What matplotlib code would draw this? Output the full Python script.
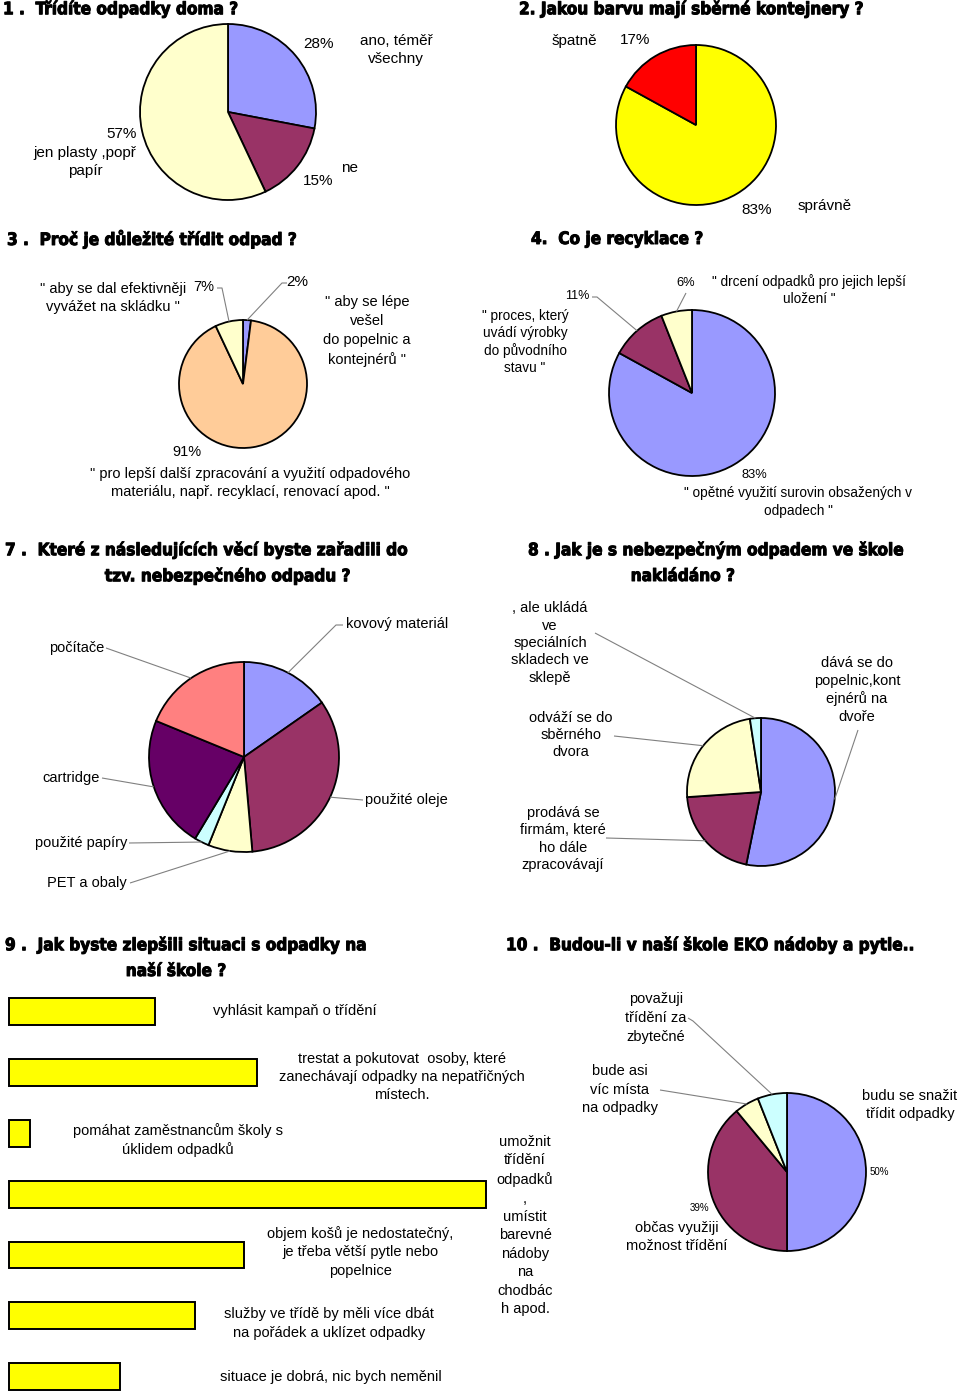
import numpy as np
import matplotlib
matplotlib.use("Agg")
import matplotlib.pyplot as plt
import matplotlib.patheffects as pe

# ---------------- data ----------------
q1_labels = ["ano, téměř\nvšechny", "ne", "jen plasty ,popř\npapír"]
q1_values = [28, 15, 57]

q2_labels = ["správně", "špatně"]
q2_values = [83, 17]

q3_labels = ['" aby se lépe\nvešel\ndo popelnic a\nkontejnérů "',
             '" pro lepší další zpracování a využití odpadového\nmateriálu, např. recyklací, renovací apod. "',
             '" aby se dal efektivněji\nvyvážet na skládku "']
q3_values = [2, 91, 7]

q4_labels = ['" opětné využití surovin obsažených v\nodpadech "',
             '" proces, který\nuvádí výrobky\ndo původního\nstavu "',
             '" drcení odpadků pro jejich lepší\nuložení "']
q4_values = [83, 11, 6]

q7_labels = ["kovový materiál", "použité oleje", "PET a obaly", "použité papíry", "cartridge", "počítače"]
q7_values = [15.3, 33.3, 7.5, 2.5, 22.6, 18.8]

q8_labels = ["dává se do\npopelnic,kont\nejnérů na\ndvoře",
             "prodává se\nfirmám, které\nho dále\nzpracovávají",
             "odváží se do\nsběrného\ndvora",
             ", ale ukládá\nve\nspeciálních\nskladech ve\nsklepě"]
q8_values = [53.2, 20.7, 23.7, 2.4]

q9_labels = ["vyhlásit kampaň o třídění",
             "trestat a pokutovat  osoby, které\nzanechávají odpadky na nepatřičných\nmístech.",
             "pomáhat zaměstnancům školy s\núklidem odpadků",
             "umožnit\ntřídění\nodpadků\n,\numístit\nbarevné\nnádoby\nna\nchodbác\nh apod.",
             "objem košů je nedostatečný,\nje třeba větší pytle nebo\npopelnice",
             "služby ve třídě by měli více dbát\nna pořádek a uklízet odpadky",
             "situace je dobrá, nic bych neměnil"]
q9_values = [6.8, 11.6, 1.0, 22.3, 11.0, 8.7, 5.2]

q10_labels = ["budu se snažit\ntřídit odpadky", "občas využiji\nmožnost třídění",
              "bude asi\nvíc místa\nna odpadky", "považuji\ntřídění za\nzbytečné"]
q10_values = [50, 39, 5, 6]

titles = ["1 .  Třídíte odpadky doma ?",
          "2. Jakou barvu mají sběrné kontejnery ?",
          "3 .  Proč je důležité třídit odpad ?",
          "4.  Co je recyklace ?",
          "7 .  Které z následujících věcí byste zařadili do",
          "tzv. nebezpečného odpadu ?",
          "8 . Jak je s nebezpečným odpadem ve škole",
          "nakládáno ?",
          "9 .  Jak byste zlepšili situaci s odpadky na",
          "naší škole ?",
          "10 .  Budou-li v naší škole EKO nádoby a pytle.."]

# ---------------- style ----------------
BLUE = "#9999FF"; MAROON = "#993366"; CREAM = "#FFFFCC"; CYAN = "#CCFFFF"
PINK = "#FF8080"; PURPLE = "#660066"; PEACH = "#FFCC99"; RED = "#FF0000"; YELLOW = "#FFFF00"
LBL = ["Liberation Sans", "DejaVu Sans"]
TTL = ["DejaVu Sans"]
LEAD = "#808080"

W, H = 960, 1394
fig = plt.figure(figsize=(W / 100, H / 100), dpi=100)
fig.patch.set_facecolor("white")

ov = fig.add_axes([0, 0, 1, 1], zorder=5)
ov.set_xlim(0, W); ov.set_ylim(H, 0); ov.axis("off")


def txt(x, y, s, size=10.5, ha="center", va="center", ls=1.45, **kw):
    ov.text(x, y, s, fontsize=size, ha=ha, va=va, family=LBL, linespacing=ls,
            multialignment="center", **kw)


def title(x, y, s, ha="left"):
    ov.text(x, y, s, fontsize=12.3, ha=ha, va="center", family=TTL, fontweight="bold",
            fontstretch="condensed",
            path_effects=[pe.withStroke(linewidth=0.7, foreground="black")])


def pie_at(cx, cy, r, values, colors):
    ax = fig.add_axes([(cx - r) / W, 1 - (cy + r) / H, 2 * r / W, 2 * r / H])
    wedges, _ = ax.pie(values, colors=colors, startangle=90, counterclock=False,
                       wedgeprops=dict(edgecolor="black", linewidth=1.3))
    for w in wedges:
        w.set_clip_on(False)
    ax.set_xlim(-1, 1); ax.set_ylim(-1, 1); ax.set_aspect("equal"); ax.axis("off")
    return ax, wedges


def leader(ax, w, pts):
    th = np.deg2rad((w.theta1 + w.theta2) / 2)
    disp = ax.transData.transform((np.cos(th), np.sin(th)))
    ex, ey = ov.transData.inverted().transform(disp)
    xs = [p[0] for p in pts] + [ex]
    ys = [p[1] for p in pts] + [ey]
    ov.plot(xs, ys, color=LEAD, lw=0.8, solid_capstyle="butt")


def pct(v):
    return f"{int(round(v))}%"


# ---------------- titles ----------------
title(3, 9, titles[0])
title(519, 9, titles[1])
title(7, 239, titles[2])
title(531, 239, titles[3])
title(5, 550, titles[4])
title(228, 576, titles[5], ha="center")
title(528, 550, titles[6])
title(683, 576, titles[7], ha="center")
title(5, 945, titles[8])
title(176, 971, titles[9], ha="center")
title(506, 945, titles[10])

# ---------------- Q1 ----------------
ax1, w1 = pie_at(228, 112, 88, q1_values, [BLUE, MAROON, CREAM])
txt(318, 44, pct(q1_values[0]), size=11)
txt(396, 50, q1_labels[0], size=11)
txt(318, 181, pct(q1_values[1]), size=11)
txt(350, 168, q1_labels[1], size=11)
txt(137, 134, pct(q1_values[2]), size=11, ha="right")
txt(85, 162, q1_labels[2], size=11)

# ---------------- Q2 ----------------
ax2, w2 = pie_at(696, 125, 80, q2_values, [YELLOW, RED])
txt(757, 210, pct(q2_values[0]), size=11)
txt(825, 206, q2_labels[0], size=11)
txt(635, 40, pct(q2_values[1]), size=11)
txt(574, 41, q2_labels[1], size=11)

# ---------------- Q3 ----------------
ax3, w3 = pie_at(243, 384, 64, q3_values, [BLUE, PEACH, CREAM])
txt(297, 282, pct(q3_values[0]), size=11)
leader(ax3, w3[0], [(287, 283), (282, 283)])
txt(367, 331, q3_labels[0], size=10.5)
txt(187, 452, pct(q3_values[1]), size=10.5)
txt(250, 483, q3_labels[1], size=10.5)
txt(204, 287, pct(q3_values[2]), size=10.5)
leader(ax3, w3[2], [(217, 288), (222, 288)])
txt(113, 298, q3_labels[2], size=10.5)

# ---------------- Q4 ----------------
ax4, w4 = pie_at(692, 393, 83, q4_values, [BLUE, MAROON, CREAM])
txt(754, 475, pct(q4_values[0]), size=9.3)
txt(798, 502, q4_labels[0], size=9.8, ls=1.3)
txt(577, 296, pct(q4_values[1]), size=9)
leader(ax4, w4[1], [(592, 297), (597, 297)])
txt(525, 342, q4_labels[1], size=9.8, ls=1.25)
txt(686, 283, pct(q4_values[2]), size=9.3)
leader(ax4, w4[2], [(686, 293)])
txt(809, 290, q4_labels[2], size=9.8, ls=1.3)

# ---------------- Q7 ----------------
ax7, w7 = pie_at(244, 757, 95, q7_values, [BLUE, MAROON, CREAM, CYAN, PURPLE, PINK])
txt(346, 624, q7_labels[0], ha="left")
leader(ax7, w7[0], [(343, 625), (336, 625)])
txt(365, 800, q7_labels[1], ha="left")
leader(ax7, w7[1], [(363, 800)])
txt(127, 883, q7_labels[2], ha="right")
leader(ax7, w7[2], [(130, 883)])
txt(127, 843, q7_labels[3], ha="right")
leader(ax7, w7[3], [(129, 843)])
txt(100, 778, q7_labels[4], ha="right")
leader(ax7, w7[4], [(102, 778)])
txt(104, 648, q7_labels[5], ha="right")
leader(ax7, w7[5], [(106, 648)])

# ---------------- Q8 ----------------
ax8, w8 = pie_at(761, 792, 74, q8_values, [BLUE, MAROON, CREAM, CYAN])
txt(857, 690, q8_labels[0], ls=1.3)
leader(ax8, w8[0], [(858, 730)])
txt(563, 839, q8_labels[1], ls=1.3)
leader(ax8, w8[1], [(606, 838)])
txt(571, 735, q8_labels[2], ls=1.3)
leader(ax8, w8[2], [(614, 736)])
txt(550, 643, q8_labels[3], ls=1.3)
leader(ax8, w8[3], [(595, 633)])

# ---------------- Q9 (bars) ----------------
px_per_unit = 21.4
row_px = 60.83
bar_left, bar_top, bar_w, bar_h = 9, 981.3, 480, H - 981.3
axb = fig.add_axes([bar_left / W, 0, bar_w / W, bar_h / H])
ypos = np.arange(len(q9_values))
axb.barh(ypos, q9_values, height=0.44, color=YELLOW, edgecolor="black", linewidth=1.4)
axb.set_xlim(0, bar_w / px_per_unit)
axb.set_ylim(-0.5 + bar_h / row_px, -0.5)
axb.axis("off")
for b in axb.patches:
    b.set_clip_on(False)

q9_pos = [(295, 1011), (402, 1077), (178, 1140), (525, 1225.5), (360, 1252), (329, 1323.5), (331, 1377)]
for (x, y), s in zip(q9_pos, q9_labels):
    txt(x, y, s, ls=1.4)

# ---------------- Q10 ----------------
ax10, w10 = pie_at(787, 1172, 79, q10_values, [BLUE, MAROON, CREAM, CYAN])
txt(879, 1172, pct(q10_values[0]), size=7)
txt(910, 1105, q10_labels[0])
txt(700, 1208, pct(q10_values[1]), size=7)
txt(677, 1237, q10_labels[1])
txt(620, 1089.5, q10_labels[2])
leader(ax10, w10[2], [(660, 1090)])
txt(656, 1018, q10_labels[3])
leader(ax10, w10[3], [(688, 1018), (693, 1021)])

fig.savefig("out.png", dpi=100, facecolor="white")
